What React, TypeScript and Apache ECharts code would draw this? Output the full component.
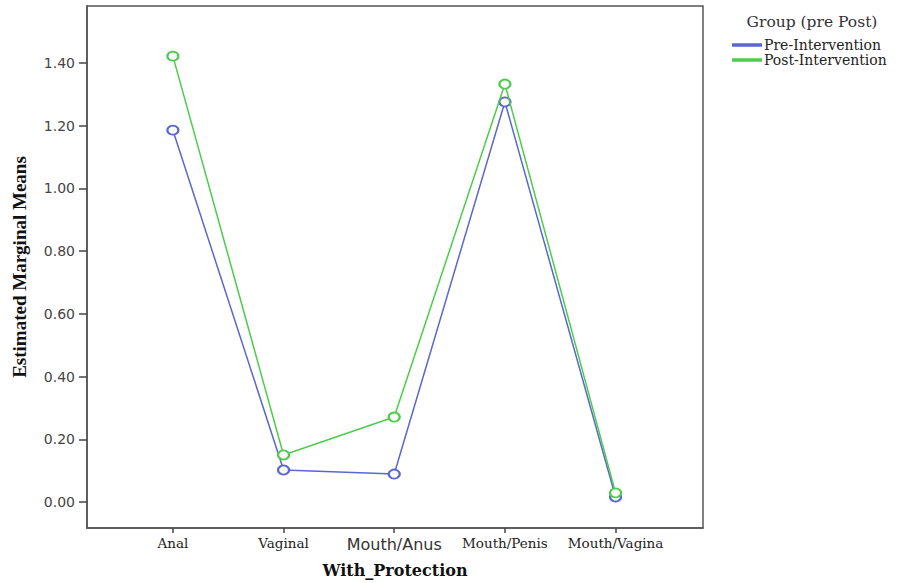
import React, { useEffect, useRef } from "react";
import * as echarts from "echarts";

const categories = ["Anal", "Vaginal", "Mouth/Anus", "Mouth/Penis", "Mouth/Vagina"];
const preIntervention = [1.186, 0.102, 0.089, 1.276, 0.016];
const postIntervention = [1.422, 0.15, 0.271, 1.333, 0.029];
const yTicks = [0, 0.2, 0.4, 0.6, 0.8, 1.0, 1.2, 1.4];
const seriesNames = ["Pre-Intervention", "Post-Intervention"];
const legendTitle = "Group (pre Post)";
const xTitle = "With_Protection";
const yTitle = "Estimated Marginal Means";

const BLUE = "#5868cc";
const GREEN = "#4ccc4c";

export default function App() {
  const ref = useRef<HTMLDivElement>(null);
  useEffect(() => {
    if (!ref.current) return;
    const chart = echarts.init(ref.current, null, { renderer: "svg" });
    const idx = categories.map((_, i) => i);
    const toData = (arr: number[]) => arr.map((v, i) => [i, v]);
    chart.setOption({
      animation: false,
      backgroundColor: "#ffffff",
      title: {
        text: legendTitle,
        left: 812,
        top: 14,
        padding: 0,
        textAlign: "center",
        textStyle: { fontFamily: "DejaVu Serif", fontSize: 15.5, fontWeight: "normal", color: "#333" },
      },
      legend: {
        orient: "vertical",
        left: 732,
        top: 38,
        padding: 0,
        itemWidth: 28,
        itemHeight: 1.5,
        itemGap: 1,
        icon: "rect",
        data: seriesNames,
        textStyle: { fontFamily: "DejaVu Serif", fontSize: 14, lineHeight: 13, color: "#222", padding: [0, 0, 0, -2] },
      },
      grid: {
        left: 87,
        top: 6,
        right: 197,
        bottom: 55,
        show: true,
        borderColor: "#555",
        borderWidth: 1.5,
      },
      xAxis: {
        type: "value",
        min: -0.776,
        max: 4.79,
        name: xTitle,
        nameLocation: "middle",
        nameGap: 34,
        nameTextStyle: { fontFamily: "DejaVu Serif", fontSize: 16, fontWeight: "bold", color: "#111" },
        splitLine: { show: false },
        axisLine: { show: true, onZero: false, lineStyle: { color: "#555", width: 1.5 } },
        axisTick: { show: true, customValues: idx, length: 5, lineStyle: { color: "#444", width: 1.5 } },
        axisLabel: {
          customValues: idx,
          margin: 8,
          formatter: (v: number) => {
            const c = categories[Math.round(v)];
            return c === "Mouth/Anus" ? `{s|${c}}` : `{r|${c}}`;
          },
          rich: {
            r: { fontFamily: "DejaVu Serif", fontSize: 13.5, color: "#222" },
            s: { fontFamily: "DejaVu Sans", fontSize: 16, color: "#333" },
          },
        },
      },
      yAxis: {
        type: "value",
        min: -0.083,
        max: 1.582,
        name: yTitle,
        nameLocation: "middle",
        nameGap: 58,
        nameTextStyle: { fontFamily: "Liberation Serif", fontSize: 19, fontWeight: "bold", color: "#111" },
        splitLine: { show: false },
        axisLine: { show: true, onZero: false, lineStyle: { color: "#555", width: 1.5 } },
        axisTick: { show: true, customValues: yTicks, length: 8, lineStyle: { color: "#444", width: 1.5 } },
        axisLabel: {
          customValues: yTicks,
          margin: 12,
          formatter: (v: number) => v.toFixed(2),
          fontFamily: "DejaVu Sans",
          fontSize: 14,
          color: "#444",
        },
      },
      series: [
        {
          name: seriesNames[0],
          type: "line",
          data: toData(preIntervention),
          symbol: "emptyCircle",
          symbolSize: [11, 9],
          color: BLUE,
          lineStyle: { color: BLUE, width: 1.5 },
          itemStyle: { color: BLUE, borderColor: BLUE, borderWidth: 1.5 },
          z: 3,
        },
        {
          name: seriesNames[1],
          type: "line",
          data: toData(postIntervention),
          symbol: "emptyCircle",
          symbolSize: [11, 9],
          color: GREEN,
          lineStyle: { color: GREEN, width: 1.5 },
          itemStyle: { color: GREEN, borderColor: GREEN, borderWidth: 1.5 },
          z: 4,
        },
      ],
    });
    return () => chart.dispose();
  }, []);
  return <div ref={ref} style={{ position: "fixed", left: 0, top: 0, width: 900, height: 583 }} />;
}
